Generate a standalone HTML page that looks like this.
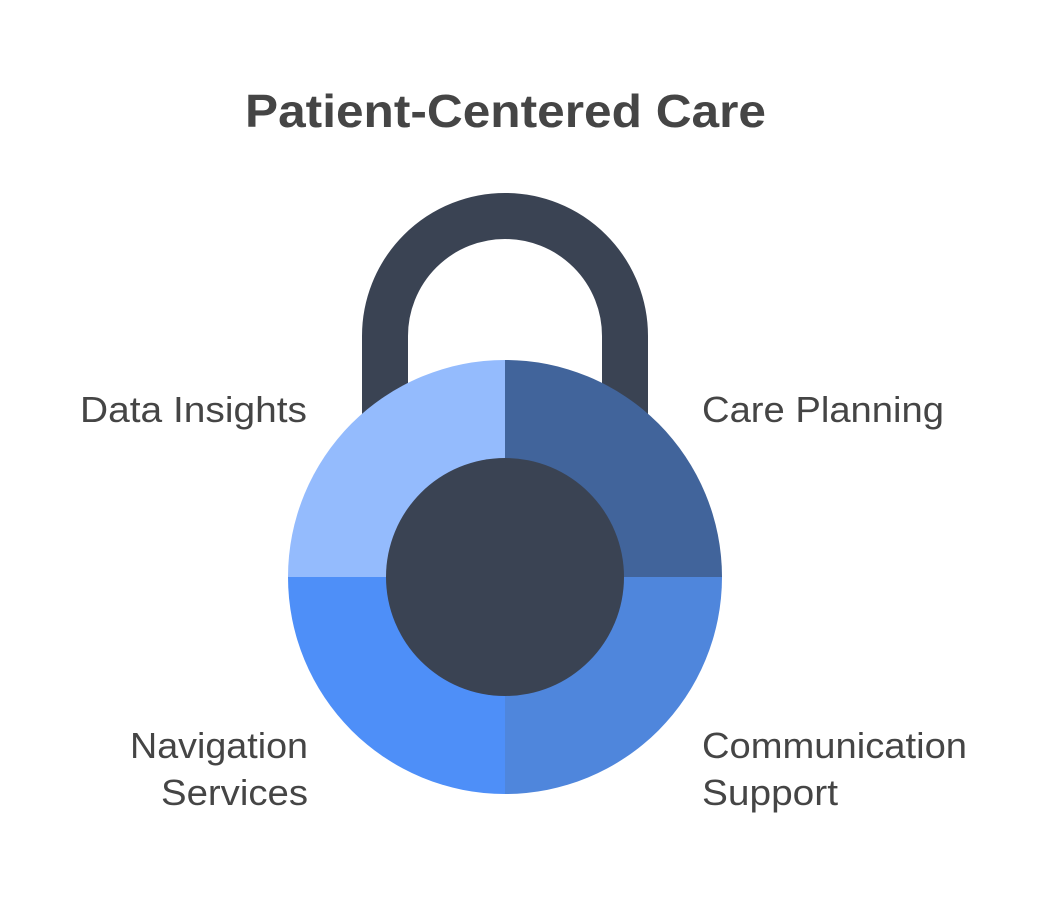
<!DOCTYPE html>
<html><head><meta charset="utf-8"><style>
html,body{margin:0;padding:0;background:#fff;}
svg{display:block;}
text{font-family:"Liberation Sans",Arial,sans-serif;fill:#454545;}
</style></head><body>
<svg width="1058" height="915" viewBox="0 0 1058 915" xmlns="http://www.w3.org/2000/svg">
<rect width="1058" height="915" fill="#fff"/>
<text x="245" y="127" font-size="46" font-weight="bold" textLength="521" lengthAdjust="spacingAndGlyphs">Patient-Centered Care</text>
<path d="M385,430 L385,336 A120,120 0 0 1 625,336 L625,430" fill="none" stroke="#3a4353" stroke-width="46"/>
<path d="M505,577 L505,360 A217,217 0 0 0 288,577 Z" fill="#94bbfd"/>
<path d="M505,577 L505,360 A217,217 0 0 1 722,577 Z" fill="#41649b"/>
<path d="M505,577 L722,577 A217,217 0 0 1 505,794 Z" fill="#4f86dc"/>
<path d="M505,577 L505,794 A217,217 0 0 1 288,577 Z" fill="#4e8ff8"/>
<circle cx="505" cy="577" r="119" fill="#3a4353"/>
<g font-size="36" lengthAdjust="spacingAndGlyphs">
<text x="80" y="422" textLength="227" lengthAdjust="spacingAndGlyphs">Data Insights</text>
<text x="702" y="422" textLength="242" lengthAdjust="spacingAndGlyphs">Care Planning</text>
<text x="130" y="758" textLength="178" lengthAdjust="spacingAndGlyphs">Navigation</text>
<text x="161" y="805" textLength="147" lengthAdjust="spacingAndGlyphs">Services</text>
<text x="702" y="758" textLength="265" lengthAdjust="spacingAndGlyphs">Communication</text>
<text x="702" y="805" textLength="136" lengthAdjust="spacingAndGlyphs">Support</text>
</g>
</svg>
</body></html>
